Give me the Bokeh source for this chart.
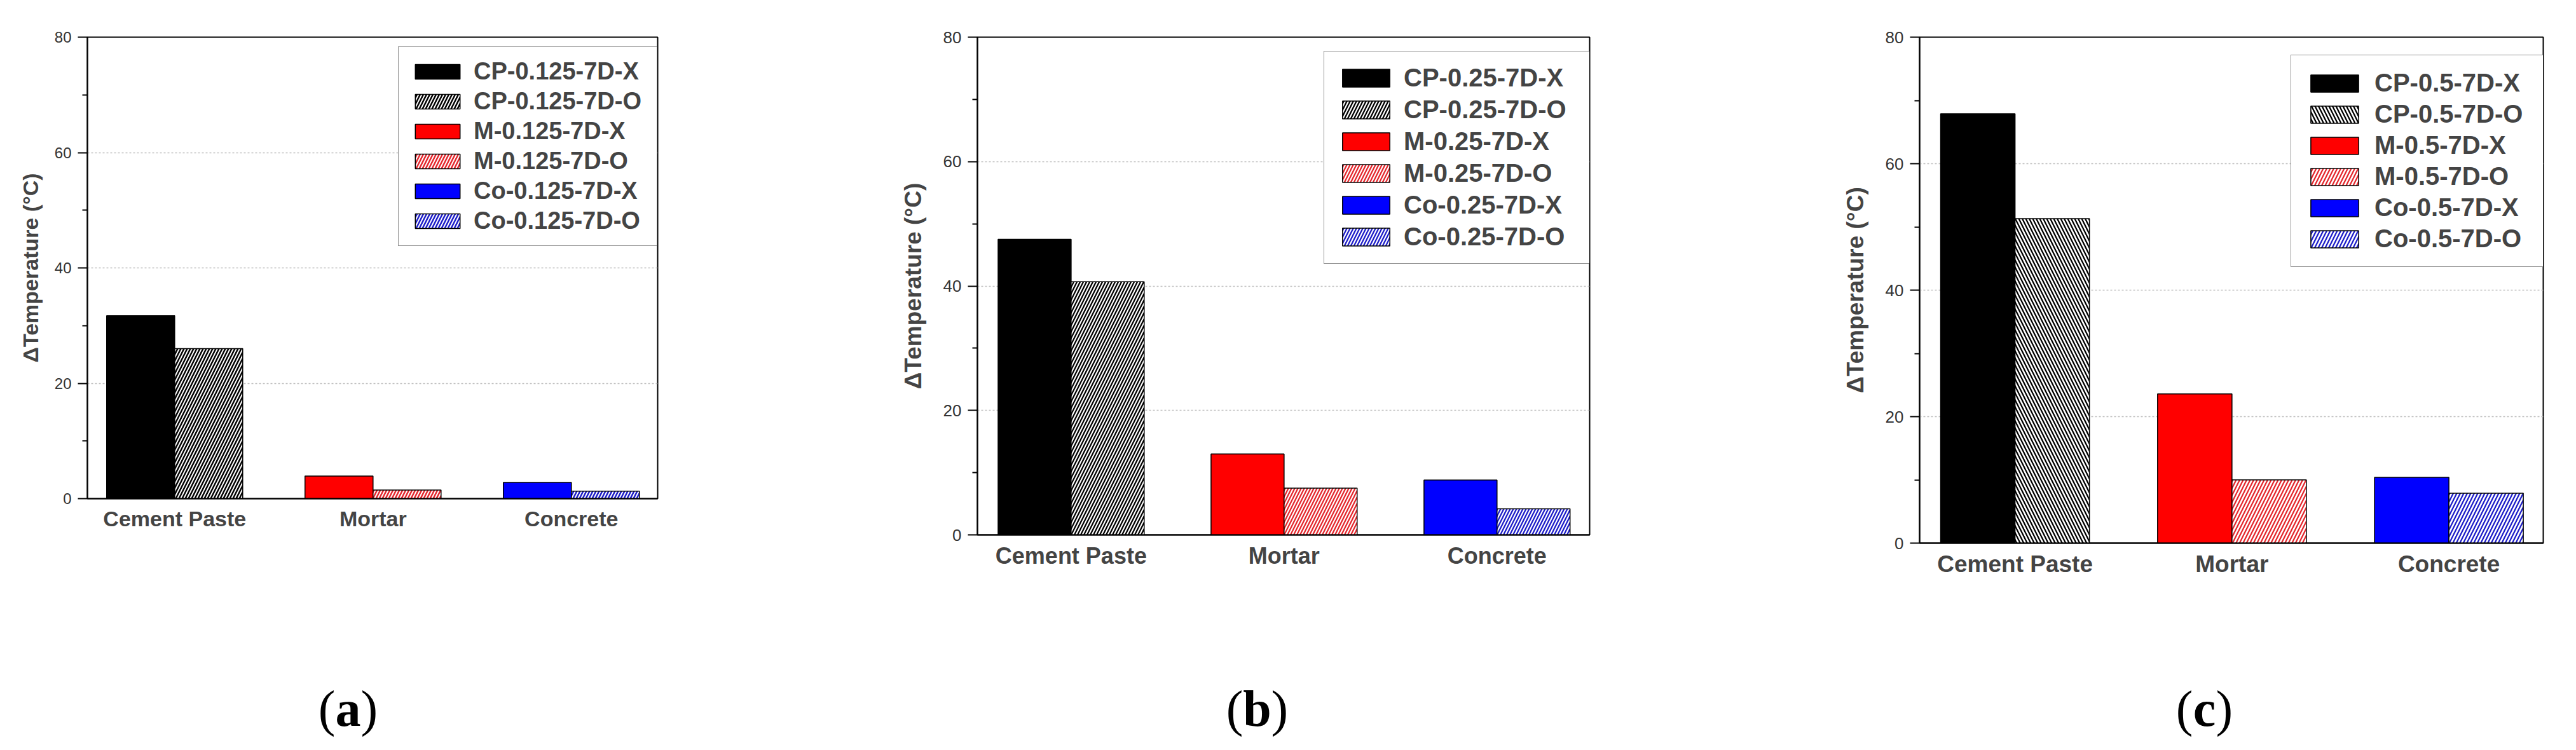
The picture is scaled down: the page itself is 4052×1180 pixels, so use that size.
from bokeh.plotting import figure
from bokeh.layouts import row, column
from bokeh.models import Range1d, FixedTicker, Legend, LegendItem
from bokeh.core.properties import value
from bokeh.embed import file_html
from bokeh.resources import INLINE

# ---------------- data ----------------
categories = ["Cement Paste", "Mortar", "Concrete"]
y_ticks = [0, 20, 40, 60, 80]
y_minor = [10, 30, 50, 70]

a_labels_x = ["CP-0.125-7D-X", "M-0.125-7D-X", "Co-0.125-7D-X"]
a_labels_o = ["CP-0.125-7D-O", "M-0.125-7D-O", "Co-0.125-7D-O"]
a_x = [31.7, 3.9, 2.8]
a_o = [26.0, 1.5, 1.3]

b_labels_x = ["CP-0.25-7D-X", "M-0.25-7D-X", "Co-0.25-7D-X"]
b_labels_o = ["CP-0.25-7D-O", "M-0.25-7D-O", "Co-0.25-7D-O"]
b_x = [47.5, 13.0, 8.8]
b_o = [40.7, 7.5, 4.2]

c_labels_x = ["CP-0.5-7D-X", "M-0.5-7D-X", "Co-0.5-7D-X"]
c_labels_o = ["CP-0.5-7D-O", "M-0.5-7D-O", "Co-0.5-7D-O"]
c_x = [67.9, 23.6, 10.4]
c_o = [51.3, 10.0, 7.9]

captions = ["a", "b", "c"]

solid_colors = ["#000000", "#ff0000", "#0000ff"]
hatch_colors = ["#000000", "#e4262c", "#1c1cc8"]

FONT = "Liberation Sans"
ROW1_H = 1000
CAP_H = 164


def make_panel(vx, vo, lx, lo, hatches, cfg):
    p = figure(
        frame_width=cfg["fw"], frame_height=cfg["fh"],
        min_border_left=cfg["bl"], min_border_right=cfg["br"],
        min_border_top=cfg["bt"], min_border_bottom=ROW1_H - cfg["bt"] - cfg["fh"],
        x_range=Range1d(0.56, 3.435), y_range=Range1d(0, 80),
        output_backend="svg", toolbar_location=None,
    )
    p.background_fill_color = "white"
    p.border_fill_color = "white"
    p.outline_line_color = "black"
    p.outline_line_width = 2
    p.xgrid.visible = False
    p.ygrid.grid_line_color = "#bdbdbd"
    p.ygrid.grid_line_dash = "3 3"
    p.ygrid.grid_line_width = 1.5

    # y axis
    ya = p.yaxis[0]
    ya.ticker = FixedTicker(ticks=y_ticks, minor_ticks=y_minor)
    ya.axis_label = "\u0394Temperature (\u00b0C)"
    ya.axis_label_text_font = FONT
    ya.axis_label_text_font_style = "bold"
    ya.axis_label_text_font_size = f"{cfg['alf']}px"
    ya.axis_label_standoff = cfg["als"]
    ya.major_label_text_font = FONT
    ya.major_label_text_font_size = f"{cfg['tlf']}px"
    ya.major_label_text_color = "#333333"
    ya.major_label_standoff = 10
    ya.axis_line_width = 2
    ya.major_tick_out = 15
    ya.major_tick_in = 0
    ya.major_tick_line_width = 2
    ya.minor_tick_out = 8
    ya.minor_tick_in = 0
    ya.minor_tick_line_width = 2

    # x axis
    xa = p.xaxis[0]
    xa.ticker = FixedTicker(ticks=[1, 2, 3], minor_ticks=[])
    xa.major_label_overrides = {i + 1: c for i, c in enumerate(categories)}
    xa.major_label_text_font = FONT
    xa.major_label_text_font_style = "bold"
    xa.major_label_text_font_size = f"{cfg['xlf']}px"
    xa.major_label_standoff = 6
    xa.major_tick_line_color = None
    xa.minor_tick_line_color = None
    xa.axis_line_width = 2

    w = 0.343
    items = []
    for i in range(len(categories)):
        xc = i + 1
        rx = p.vbar(x=[xc - w / 2], top=[vx[i]], width=w, bottom=0,
                    fill_color=solid_colors[i], line_color="black", line_width=1.5)
        ro = p.vbar(x=[xc + w / 2], top=[vo[i]], width=w, bottom=0,
                    fill_color="white", line_color="black", line_width=1.5,
                    hatch_pattern=hatches[i], hatch_color=hatch_colors[i],
                    hatch_scale=cfg["hs"], hatch_weight=cfg["hw"])
        items.append(LegendItem(label=lx[i], renderers=[rx]))
        items.append(LegendItem(label=lo[i], renderers=[ro]))

    leg = Legend(
        items=items, location=(cfg["lx"], cfg["ly"]),
        glyph_width=cfg["gw"], glyph_height=cfg["gh"],
        label_text_font=FONT, label_text_font_style="bold",
        label_text_font_size=f"{cfg['lf']}px", label_width=cfg["lw"],
        label_standoff=cfg["lst"], spacing=cfg["sp"], padding=cfg["pad"],
        border_line_color="#222222", border_line_width=1.5,
        background_fill_color="white", background_fill_alpha=1.0, margin=0,
    )
    p.add_layout(leg)
    return p


def make_caption(cap, width, cx, half):
    c = figure(frame_width=width, frame_height=CAP_H,
               min_border_left=0, min_border_right=0, min_border_top=0, min_border_bottom=0,
               x_range=Range1d(0, width), y_range=Range1d(0, CAP_H),
               x_axis_type=None, y_axis_type=None,
               output_backend="svg", toolbar_location=None)
    c.outline_line_color = None
    c.xgrid.visible = False
    c.ygrid.visible = False
    c.background_fill_color = "white"
    c.border_fill_color = "white"
    base = CAP_H - 114
    common = dict(text_font=value("Liberation Serif"), text_font_size="80px",
                  text_baseline="alphabetic", text_color="black")
    c.text(x=[cx - half], y=[base], text=["("], text_align="right", **common)
    c.text(x=[cx], y=[base], text=[cap], text_align="center",
           text_font_style="bold", **common)
    c.text(x=[cx + half], y=[base], text=[")"], text_align="left", **common)
    return c


cfg_a = dict(fw=897, fh=726, bl=137, br=258, bt=58,
             alf=34, als=16, tlf=24, xlf=34, hs=10, hw=2.5,
             lx=489, ly=397, gw=88, gh=29, lf=38, lw=271, lst=13, sp=4, pad=17)
cfg_b = dict(fw=963, fh=783, bl=245, br=192, bt=41,
             alf=37, als=24, tlf=26, xlf=36, hs=10, hw=2.3,
             lx=545, ly=426, gw=93, gh=35, lf=40, lw=286, lst=13, sp=5, pad=19)
cfg_c = dict(fw=981, fh=796, bl=327, br=36, bt=43,
             alf=37, als=24, tlf=26, xlf=37, hs=11, hw=2.3,
             lx=584, ly=434, gw=94, gh=34, lf=40, lw=258, lst=16, sp=4, pad=21)

p1 = make_panel(a_x, a_o, a_labels_x, a_labels_o, ["/", "/", "/"], cfg_a)
p2 = make_panel(b_x, b_o, b_labels_x, b_labels_o, ["/", "/", "/"], cfg_b)
p3 = make_panel(c_x, c_o, c_labels_x, c_labels_o, ["\\", "/", "/"], cfg_c)

w1 = cfg_a["bl"] + cfg_a["fw"] + cfg_a["br"]
w2 = cfg_b["bl"] + cfg_b["fw"] + cfg_b["br"]
w3 = cfg_c["bl"] + cfg_c["fw"] + cfg_c["br"]

c1 = make_caption(captions[0], w1, 547, 20)
c2 = make_caption(captions[1], w2, 685, 22)
c3 = make_caption(captions[2], w3, 775, 18)

layout = column(row(p1, p2, p3), row(c1, c2, c3))
open("out.html", "w").write(file_html(layout, INLINE))
